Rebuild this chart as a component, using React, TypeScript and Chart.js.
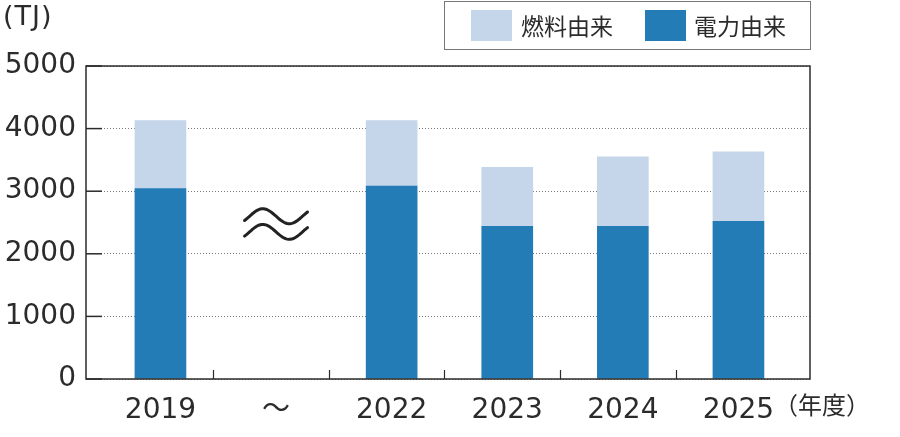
import React, { useEffect, useRef } from "react";
import { Chart, registerables, Plugin } from "chart.js";

Chart.register(...registerables);

const categories = ["2019", "～", "2022", "2023", "2024", "2025"];
const electricity = [3040, null, 3080, 2440, 2440, 2520];
const fuel = [1090, null, 1050, 940, 1110, 1110];
const yTicks = [0, 1000, 2000, 3000, 4000, 5000];

const DARK = "rgb(36,124,183)";
const LIGHT = "rgb(197,213,234)";
const INK = "#2b2b2b";
const NUM_FONT = "'DejaVu Sans', 'Noto Sans CJK JP', sans-serif";
const JP_FONT = "'Noto Sans CJK JP', sans-serif";

const toPoints = (values: (number | null)[]) =>
  values
    .map((v, i) => (v === null ? null : { x: i, y: v }))
    .filter((p) => p !== null) as { x: number; y: number }[];

const decorations: Plugin<"bar"> = {
  id: "decorations",
  afterDraw(chart) {
    const { ctx, chartArea } = chart;
    const xs = chart.scales.x;
    const ys = chart.scales.y;
    const { left, right, top, bottom } = chartArea;
    ctx.save();

    // frame
    ctx.strokeStyle = INK;
    ctx.lineWidth = 1.5;
    ctx.strokeRect(left, top, right - left, bottom - top);

    // y tick marks, pointing inwards
    yTicks.forEach((v) => {
      const y = ys.getPixelForValue(v);
      ctx.beginPath();
      ctx.moveTo(left, y);
      ctx.lineTo(left + 16, y);
      ctx.stroke();
    });

    // x tick marks between the categories
    for (let i = 0; i < categories.length - 1; i++) {
      const x = Math.round(xs.getPixelForValue(i + 0.5) - 5) + 0.5;
      ctx.beginPath();
      ctx.lineWidth = 1.2;
      ctx.moveTo(x, bottom);
      ctx.lineTo(x, bottom - 9);
      ctx.stroke();
    }

    // break mark (≈) in the gap
    const cx = xs.getPixelForValue(1);
    const w = 63;
    ctx.lineWidth = 3;
    ctx.strokeStyle = "#222";
    ctx.lineCap = "round";
    [ys.getPixelForValue(2600), ys.getPixelForValue(2350)].forEach((yc) => {
      ctx.beginPath();
      for (let s = 0; s <= 40; s++) {
        const t = s / 40;
        const th = Math.PI * (-0.19 + 2.38 * t);
        const px = cx - w / 2 + t * w;
        const py = yc - 7.5 * Math.sin(th);
        if (s === 0) ctx.moveTo(px, py);
        else ctx.lineTo(px, py);
      }
      ctx.stroke();
    });

    // unit labels
    ctx.fillStyle = INK;
    ctx.textBaseline = "middle";
    ctx.textAlign = "left";
    ctx.font = `27px ${NUM_FONT}`;
    (ctx as any).letterSpacing = "1px";
    ctx.fillText("(TJ)", 3, 18);
    (ctx as any).letterSpacing = "0px";
    ctx.font = `24px ${JP_FONT}`;
    ctx.fillText("（年度）", 774, 405);

    // legend
    ctx.strokeStyle = "#777";
    ctx.lineWidth = 1;
    ctx.strokeRect(444.5, 1.5, 366, 48);
    ctx.font = `23px ${JP_FONT}`;
    ctx.fillStyle = LIGHT;
    ctx.fillRect(471, 10, 41, 31);
    ctx.fillStyle = INK;
    ctx.fillText("燃料由来", 521, 26);
    ctx.fillStyle = DARK;
    ctx.fillRect(645, 10, 41, 31);
    ctx.fillStyle = INK;
    ctx.fillText("電力由来", 694, 26);

    ctx.restore();
  },
};

const EnergyChart: React.FC = () => {
  const canvasRef = useRef<HTMLCanvasElement>(null);

  useEffect(() => {
    document.body.style.margin = "0";
    if (!canvasRef.current) return;
    const chart = new Chart(canvasRef.current, {
      type: "bar",
      data: {
        datasets: [
          {
            label: "電力由来",
            data: toPoints(electricity),
            backgroundColor: DARK,
            barThickness: 51,
          },
          {
            label: "燃料由来",
            data: toPoints(fuel),
            backgroundColor: LIGHT,
            barThickness: 51,
          },
        ],
      },
      options: {
        animation: false,
        responsive: true,
        maintainAspectRatio: false,
        layout: { padding: { top: 66, right: 90, bottom: 0, left: 0 } },
        plugins: { legend: { display: false }, tooltip: { enabled: false } },
        scales: {
          x: {
            type: "linear",
            stacked: true,
            offset: false,
            min: -0.644,
            max: 5.619,
            grid: { display: false },
            border: { display: false },
            afterBuildTicks: (scale) => {
              scale.ticks = categories.map((_, i) => ({ value: i }));
            },
            afterFit: (scale) => {
              scale.height = 58;
            },
            ticks: {
              autoSkip: false,
              maxRotation: 0,
              padding: 7,
              color: INK,
              font: { family: NUM_FONT, size: 28 },
              callback: (v) => categories[Number(v)] ?? "",
            },
          },
          y: {
            stacked: true,
            min: 0,
            max: 5000,
            grid: { color: "#777", lineWidth: 1, drawTicks: false },
            border: { display: false, dash: [1, 2] },
            afterBuildTicks: (scale) => {
              scale.ticks = yTicks.map((v) => ({ value: v }));
            },
            afterFit: (scale) => {
              scale.width = 86;
            },
            ticks: {
              padding: 10,
              color: INK,
              font: { family: NUM_FONT, size: 28 },
              callback: (v) => String(v),
            },
          },
        },
      },
      plugins: [decorations],
    });
    return () => chart.destroy();
  }, []);

  return (
    <div style={{ position: "relative", width: 900, height: 437 }}>
      <canvas ref={canvasRef} />
    </div>
  );
};

export default function App() {
  return <EnergyChart />;
}
